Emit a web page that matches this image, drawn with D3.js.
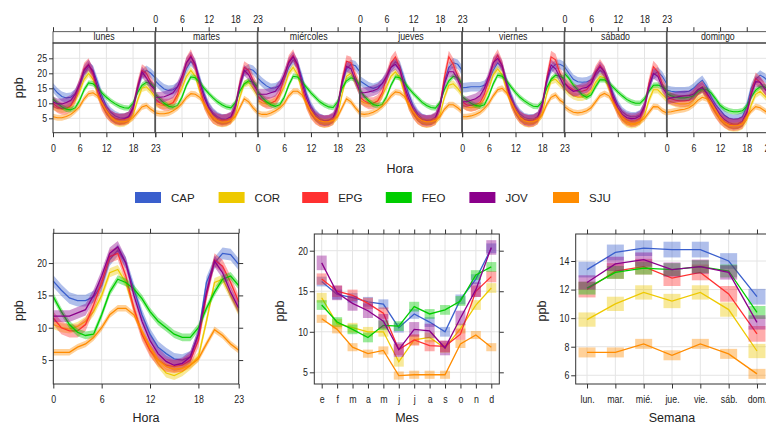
<!DOCTYPE html>
<html>
<head>
<meta charset="utf-8">
<script src="https://cdn.jsdelivr.net/npm/d3@7"></script>
<style>
  body { margin: 0; background: #fff; }
  text { font-family: "Liberation Sans Narrow", "Arial Narrow", "Liberation Sans", sans-serif; fill: #222; }
</style>
</head>
<body>
<svg id="chart" width="766" height="424"></svg>
<script>
// ---- data ----
const species = ['CAP', 'COR', 'EPG', 'FEO', 'JOV', 'SJU'];
const colours = ['#3a5fcd', '#eec900', '#ff3030', '#00cd00', '#8b008b', '#ff8c00'];
const dayNames = ['lunes', 'martes', 'miércoles', 'jueves', 'viernes', 'sábado', 'domingo'];
const hourTicks = [0, 6, 12, 18, 23];
const months = ['e', 'f', 'm', 'a', 'm', 'j', 'j', 'a', 's', 'o', 'n', 'd'];
const weekdays = ['lun.', 'mar.', 'mié.', 'jue.', 'vie.', 'sáb.', 'dom.'];

// day x hour means (lunes .. domingo), 24 values each
const dayHourCAP = [
  [15.2, 13.5, 12.3, 11.8, 12.0, 13.2, 15.8, 20.0, 22.2, 21.0, 17.0, 12.5, 9.0, 7.0, 5.8, 5.2, 5.1, 5.6, 8.5, 15.0, 19.5, 21.0, 20.0, 18.5],
  [17.5, 16.0, 14.8, 14.3, 14.5, 15.5, 17.5, 21.5, 24.0, 22.5, 18.0, 13.0, 9.0, 6.8, 5.5, 4.8, 4.7, 5.3, 8.5, 16.0, 20.5, 21.5, 21.0, 19.5],
  [18.5, 17.0, 15.8, 15.0, 15.2, 16.0, 18.0, 22.0, 24.5, 23.0, 18.5, 13.0, 9.0, 6.5, 5.0, 4.3, 4.3, 5.0, 8.5, 16.5, 21.5, 23.0, 22.5, 20.5],
  [17.5, 16.5, 15.5, 15.0, 15.5, 16.5, 18.5, 22.0, 23.8, 22.5, 18.0, 13.0, 9.0, 6.5, 5.0, 4.4, 4.4, 5.2, 9.0, 17.0, 22.0, 23.5, 23.0, 21.0],
  [15.2, 15.3, 15.5, 15.5, 15.5, 16.0, 17.5, 21.0, 23.5, 22.0, 17.5, 12.5, 8.8, 6.5, 5.2, 4.8, 4.8, 5.5, 9.0, 17.0, 21.5, 23.0, 23.0, 22.2],
  [22.2, 20.0, 18.0, 17.2, 17.0, 17.2, 17.8, 19.5, 21.0, 20.0, 17.0, 13.0, 9.5, 7.2, 6.0, 5.5, 5.5, 6.2, 9.0, 15.5, 19.5, 20.5, 19.0, 16.5],
  [14.4, 14.0, 13.8, 13.8, 13.8, 14.0, 15.0, 16.5, 17.7, 15.5, 12.0, 9.5, 7.8, 6.0, 5.0, 4.7, 4.8, 5.5, 9.0, 15.0, 18.0, 19.4, 18.5, 17.0]
];
const dayHourCOR = [
  [9.0, 8.3, 8.0, 8.2, 9.0, 11.0, 14.0, 18.0, 20.0, 18.0, 13.5, 9.5, 6.5, 4.8, 3.6, 3.2, 3.4, 4.2, 6.0, 11.0, 15.0, 15.5, 14.0, 12.0],
  [10.0, 9.5, 9.2, 9.5, 10.2, 12.0, 15.0, 19.0, 21.0, 19.0, 14.0, 9.5, 6.5, 4.5, 3.5, 3.2, 3.4, 4.2, 6.0, 12.0, 16.5, 17.0, 15.0, 12.5],
  [11.0, 10.2, 9.8, 10.0, 10.8, 12.5, 15.5, 20.0, 22.0, 19.5, 14.0, 9.5, 6.3, 4.5, 3.4, 3.0, 3.2, 4.0, 6.0, 13.0, 19.0, 20.0, 17.0, 13.5],
  [11.0, 10.2, 9.8, 10.0, 10.8, 12.5, 15.5, 19.0, 20.5, 18.5, 13.5, 9.0, 6.2, 4.3, 3.3, 3.0, 3.2, 4.0, 6.0, 12.0, 16.0, 16.5, 15.0, 13.0],
  [9.5, 8.8, 8.5, 8.8, 9.5, 11.5, 15.0, 19.5, 21.5, 19.5, 14.5, 9.8, 6.5, 4.5, 3.4, 3.1, 3.3, 4.2, 6.5, 13.0, 17.5, 18.0, 16.5, 15.0],
  [15.0, 13.5, 12.5, 12.0, 12.0, 12.5, 14.0, 17.0, 19.0, 18.5, 15.0, 10.5, 7.0, 4.5, 3.2, 2.8, 3.0, 3.8, 6.0, 11.0, 14.5, 14.5, 13.0, 11.5],
  [11.0, 10.5, 10.0, 9.8, 9.8, 10.0, 11.0, 13.0, 14.5, 12.5, 9.0, 6.5, 4.5, 3.0, 2.0, 1.7, 1.8, 2.5, 4.5, 9.5, 13.0, 14.0, 12.5, 11.0]
];
const dayHourEPG = [
  [10.0, 8.8, 8.2, 8.3, 9.2, 12.0, 16.5, 21.5, 23.0, 19.5, 14.0, 9.5, 7.0, 5.5, 4.8, 4.5, 4.6, 5.2, 8.0, 15.5, 21.0, 20.0, 17.0, 14.0],
  [11.5, 10.2, 9.5, 9.5, 10.2, 13.0, 18.0, 23.5, 26.0, 22.0, 15.5, 10.0, 7.0, 5.2, 4.5, 4.2, 4.4, 5.0, 8.5, 16.5, 22.0, 21.0, 17.5, 14.5],
  [12.5, 11.0, 10.2, 10.0, 10.8, 13.5, 18.5, 24.0, 26.0, 22.0, 15.5, 10.0, 6.8, 5.0, 4.2, 3.9, 4.1, 4.8, 8.5, 17.5, 24.0, 23.5, 19.0, 15.0],
  [12.0, 10.8, 10.0, 10.0, 10.8, 13.5, 18.5, 23.5, 25.5, 21.5, 15.0, 9.8, 6.8, 5.0, 4.2, 3.9, 4.1, 4.8, 9.0, 18.5, 25.5, 23.0, 19.0, 15.5],
  [10.5, 9.5, 9.2, 9.5, 10.2, 13.0, 18.0, 23.5, 26.0, 22.5, 16.0, 10.5, 7.2, 5.3, 4.4, 4.0, 4.2, 5.0, 9.0, 18.0, 25.5, 24.5, 20.0, 17.0],
  [17.0, 15.5, 14.5, 14.0, 14.0, 14.5, 16.5, 20.5, 22.8, 20.5, 16.0, 11.0, 7.5, 5.5, 4.5, 4.0, 4.2, 5.0, 8.5, 16.5, 22.2, 20.5, 16.5, 13.5],
  [12.5, 11.5, 11.0, 10.8, 10.8, 11.0, 12.5, 14.5, 15.5, 13.0, 9.5, 7.0, 5.0, 3.8, 3.0, 2.8, 2.9, 3.5, 6.5, 13.5, 18.3, 17.0, 15.0, 13.0]
];
const dayHourFEO = [
  [11.5, 10.0, 8.8, 8.0, 7.8, 8.5, 11.0, 14.5, 16.8, 16.5, 15.2, 13.5, 12.0, 10.8, 9.8, 9.0, 8.5, 8.4, 10.0, 13.5, 16.0, 17.0, 16.5, 15.0],
  [13.0, 11.5, 10.0, 9.0, 8.7, 9.3, 12.0, 16.0, 18.8, 18.5, 17.0, 15.0, 13.3, 11.8, 10.5, 9.5, 8.8, 8.5, 10.2, 14.0, 16.5, 17.5, 17.0, 15.5],
  [14.0, 12.0, 10.5, 9.5, 9.0, 9.5, 12.0, 16.0, 19.0, 18.8, 17.2, 15.3, 13.5, 12.0, 10.5, 9.5, 8.8, 8.6, 10.5, 15.0, 17.5, 18.5, 18.0, 16.0],
  [14.5, 12.3, 10.8, 9.6, 9.2, 9.6, 12.2, 16.0, 18.8, 18.5, 17.0, 15.0, 13.3, 11.8, 10.3, 9.3, 8.6, 8.4, 10.2, 14.5, 17.5, 19.0, 18.5, 16.5],
  [12.2, 11.0, 10.0, 9.3, 9.0, 9.5, 12.5, 16.5, 19.4, 19.0, 17.5, 15.5, 13.6, 12.0, 10.8, 9.8, 9.0, 8.9, 10.5, 15.0, 18.0, 19.4, 19.0, 18.3],
  [20.0, 18.3, 16.1, 14.5, 12.8, 12.0, 12.8, 15.5, 17.8, 17.8, 16.8, 15.3, 13.8, 12.5, 11.3, 10.5, 10.0, 10.0, 11.5, 14.0, 16.0, 16.1, 15.5, 14.5],
  [13.3, 12.5, 12.0, 11.8, 11.8, 12.0, 12.5, 14.0, 14.8, 14.5, 13.5, 11.5, 9.4, 8.2, 7.5, 7.2, 7.2, 7.5, 9.0, 12.0, 14.4, 15.5, 15.5, 14.5]
];
const dayHourJOV = [
  [10.5, 9.8, 9.8, 10.3, 11.0, 13.0, 16.5, 21.0, 22.8, 20.5, 15.5, 11.0, 8.0, 6.0, 5.0, 4.6, 4.8, 5.5, 8.5, 15.0, 20.5, 18.5, 16.0, 14.5],
  [12.0, 12.0, 12.2, 12.8, 13.5, 15.5, 19.0, 23.5, 25.5, 23.0, 17.0, 12.0, 8.5, 6.2, 5.0, 4.5, 4.7, 5.5, 9.0, 16.0, 21.0, 19.5, 16.5, 14.0],
  [13.0, 13.0, 13.0, 13.5, 14.0, 16.0, 19.5, 23.5, 25.5, 23.0, 17.0, 11.8, 8.0, 5.8, 4.6, 4.2, 4.4, 5.3, 9.0, 17.0, 22.3, 21.5, 17.5, 14.0],
  [13.5, 13.5, 13.8, 14.2, 14.8, 16.5, 19.0, 22.0, 23.0, 21.0, 16.0, 11.5, 8.0, 5.8, 4.6, 4.3, 4.5, 5.3, 9.0, 16.5, 20.5, 20.5, 18.0, 14.5],
  [10.5, 10.5, 11.0, 11.5, 12.5, 15.0, 19.0, 23.5, 25.0, 22.5, 16.5, 11.5, 8.0, 5.8, 4.6, 4.3, 4.5, 5.5, 9.5, 17.5, 22.8, 21.5, 18.5, 15.5],
  [16.7, 15.0, 14.0, 14.3, 15.0, 15.3, 16.5, 20.0, 22.2, 20.5, 16.7, 12.0, 8.5, 6.3, 5.2, 4.9, 5.0, 5.8, 9.0, 15.5, 20.0, 19.0, 15.5, 13.0],
  [11.3, 11.8, 12.0, 12.3, 12.5, 12.5, 13.0, 14.5, 15.3, 13.5, 11.0, 8.5, 6.1, 4.5, 3.5, 3.1, 3.2, 4.0, 7.0, 13.0, 17.2, 17.0, 15.0, 13.0]
];
const dayHourSJU = [
  [5.5, 5.2, 5.2, 5.6, 6.3, 7.5, 9.0, 11.5, 13.2, 13.5, 12.5, 10.0, 7.5, 5.5, 4.3, 3.8, 3.8, 4.2, 5.2, 7.0, 8.8, 9.3, 8.0, 7.0],
  [6.8, 6.5, 6.5, 6.8, 7.5, 8.5, 10.0, 12.0, 13.2, 13.0, 12.0, 9.8, 7.3, 5.3, 4.2, 3.7, 3.8, 4.3, 5.5, 8.5, 11.5, 10.5, 8.5, 7.0],
  [6.8, 6.3, 6.3, 6.8, 7.5, 8.5, 10.0, 12.5, 14.0, 14.0, 12.8, 10.0, 7.3, 5.2, 4.2, 3.8, 3.9, 4.3, 5.5, 8.5, 11.5, 10.5, 8.5, 6.8],
  [6.5, 6.3, 6.5, 7.0, 7.8, 9.0, 10.5, 12.5, 13.8, 13.5, 12.3, 9.8, 7.2, 5.2, 4.2, 3.8, 3.9, 4.3, 5.5, 8.0, 9.5, 9.5, 8.5, 7.2],
  [5.5, 5.5, 5.8, 6.3, 7.0, 8.3, 10.0, 12.5, 14.5, 15.0, 13.5, 10.5, 7.5, 5.3, 4.2, 3.8, 3.9, 4.5, 6.0, 9.5, 12.0, 12.8, 11.0, 10.0],
  [8.9, 7.8, 7.0, 6.8, 7.0, 7.5, 8.5, 10.5, 12.5, 13.3, 12.5, 10.0, 7.5, 5.3, 3.9, 3.3, 3.4, 3.9, 5.0, 7.0, 8.9, 8.8, 7.5, 6.8],
  [7.0, 7.2, 7.5, 7.8, 8.0, 8.5, 9.5, 11.0, 12.0, 11.5, 10.0, 7.5, 5.0, 3.5, 2.7, 2.5, 2.6, 3.2, 5.5, 7.5, 8.9, 8.5, 7.5, 6.5]
];

// hourly means (all days)
const hourCAP = [17.2, 15.8, 14.6, 14.2, 14.2, 14.8, 16.5, 20.5, 22.0, 20.0, 16.0, 12.0, 9.0, 7.0, 6.0, 5.2, 5.0, 5.5, 9.0, 17.0, 20.0, 21.5, 21.3, 19.8];
const hourCOR = [10.5, 10.0, 9.8, 10.2, 11.0, 12.5, 15.0, 18.5, 19.0, 17.0, 13.0, 9.0, 6.5, 4.5, 3.0, 2.6, 3.2, 4.2, 5.5, 11.0, 17.0, 17.5, 15.0, 12.5];
const hourEPG = [11.5, 10.0, 9.5, 9.5, 10.5, 13.5, 17.0, 21.0, 21.5, 18.0, 13.0, 9.0, 6.5, 5.0, 4.2, 4.0, 4.2, 5.0, 8.0, 15.0, 20.5, 19.5, 17.0, 14.0];
const hourFEO = [14.8, 12.5, 10.5, 9.3, 8.8, 9.0, 12.0, 15.5, 17.5, 17.0, 16.0, 14.5, 12.5, 11.0, 10.0, 9.0, 8.5, 8.5, 10.0, 13.0, 15.5, 17.5, 18.0, 16.5];
const hourJOV = [11.8, 11.8, 11.8, 12.3, 12.8, 15.0, 18.0, 21.5, 22.5, 20.0, 15.0, 11.0, 8.0, 6.0, 4.8, 4.2, 4.5, 5.5, 9.0, 15.5, 20.3, 18.5, 15.5, 13.0];
const hourSJU = [6.2, 6.2, 6.2, 7.0, 7.5, 8.5, 10.0, 12.0, 13.0, 13.0, 12.0, 9.5, 7.0, 5.0, 4.0, 3.6, 3.7, 4.2, 5.2, 7.5, 9.7, 8.8, 7.5, 6.5];

// monthly means
const monthCAP = [16.2, 14.6, 14.2, 13.7, 13.4, 10.5, 12.2, 11.2, 10.0, 14.0, 16.5, 20.3];
const monthCOR = [14.2, 11.0, 10.5, 10.0, 10.0, 6.3, 9.0, 9.3, 8.0, 10.4, 13.3, 15.4];
const monthEPG = [16.5, 15.0, 14.5, 13.5, 12.3, 7.8, 9.0, 8.3, 8.2, 9.7, 15.0, 16.8];
const monthFEO = [13.3, 11.2, 10.3, 9.3, 10.8, 10.7, 13.1, 12.2, 12.7, 13.8, 17.0, 18.0];
const monthJOV = [18.5, 14.8, 13.5, 12.6, 11.3, 7.8, 10.3, 10.1, 8.0, 11.7, 15.2, 20.4];
const monthSJU = [11.6, 10.3, 8.1, 7.3, 7.7, 4.6, 4.7, 4.7, 4.7, 8.5, 9.6, 8.1];

// weekday means
const weekCAP = [13.4, 14.6, 14.9, 14.8, 14.8, 14.0, 11.5];
const weekCOR = [9.9, 11.0, 11.8, 11.2, 11.8, 10.6, 7.7];
const weekEPG = [12.0, 13.3, 13.6, 12.8, 13.2, 11.7, 8.9];
const weekFEO = [12.1, 13.2, 13.5, 13.4, 13.6, 13.3, 10.4];
const weekJOV = [12.5, 13.8, 14.1, 13.4, 13.6, 13.2, 9.7];
const weekSJU = [7.6, 7.6, 8.2, 7.4, 8.2, 7.5, 6.1];

// confidence half-widths per species
const ciDayHour = [1.6, 1.2, 2.0, 0.9, 1.8, 1.0];
const ciHour = [0.9, 0.7, 1.0, 0.6, 0.9, 0.5];
const ciMonth = [0.6, 0.6, 0.7, 0.6, 0.9, 0.5];
const ciWeek = [0.55, 0.5, 0.55, 0.45, 0.5, 0.35];

const dayHour = [dayHourCAP, dayHourCOR, dayHourEPG, dayHourFEO, dayHourJOV, dayHourSJU];
const hourly = [hourCAP, hourCOR, hourEPG, hourFEO, hourJOV, hourSJU];
const monthly = [monthCAP, monthCOR, monthEPG, monthFEO, monthJOV, monthSJU];
const weekly = [weekCAP, weekCOR, weekEPG, weekFEO, weekJOV, weekSJU];

// ---- drawing ----
const svg = d3.select('#chart');
const gridCol = '#e4e4e4';
const frameCol = '#333';
const tickFont = 10.5;
const narrow = 0.84; // squeeze tick labels to look like a narrow face

function styleAxis(g, labelled) {
  g.select('.domain').remove();
  g.selectAll('line').attr('stroke', frameCol);
  g.selectAll('text')
    .attr('font-family', null)
    .style('font-size', tickFont + 'px')
    .attr('fill', '#333')
    .attr('transform', `scale(${narrow},1)`);
  if (!labelled) g.selectAll('text').remove();
  g.attr('font-family', null).attr('font-size', null);
}

function seriesBand(g, x, y, vals, ci, col, width) {
  g.append('path').datum(vals)
    .attr('d', d3.area().x((d, i) => x(i)).y0(d => y(d - ci)).y1(d => y(d + ci)))
    .attr('fill', col).attr('fill-opacity', 0.4);
  g.append('path').datum(vals)
    .attr('d', d3.line().x((d, i) => x(i)).y(d => y(d)))
    .attr('fill', 'none').attr('stroke', col).attr('stroke-width', width);
}

// top panel: day x hour
const tp = { left: 53, right: 769, top: 43, bottom: 132.7, strip: 31.7 };
const dayW = (tp.right - tp.left) / 7;
const yTop = d3.scaleLinear().domain([0.2, 30.1]).range([tp.bottom, tp.top]);

dayNames.forEach((day, di) => {
  const x0 = tp.left + di * dayW;
  const x = d3.scaleLinear().domain([0, 23]).range([x0, x0 + dayW]);
  const g = svg.append('g');

  g.selectAll('.hg').data([5, 10, 15, 20, 25]).join('line')
    .attr('x1', x0).attr('x2', x0 + dayW)
    .attr('y1', d => yTop(d)).attr('y2', d => yTop(d))
    .attr('stroke', gridCol);
  g.selectAll('.vg').data([6, 12, 18]).join('line')
    .attr('x1', d => x(d)).attr('x2', d => x(d))
    .attr('y1', tp.top).attr('y2', tp.bottom)
    .attr('stroke', gridCol);

  species.forEach((s, si) => {
    seriesBand(g, x, yTop, dayHour[si][di], ciDayHour[si], colours[si], 1.1);
  });

  // strip
  g.append('rect').attr('x', x0).attr('y', tp.strip).attr('width', dayW).attr('height', tp.top - tp.strip)
    .attr('fill', '#fff').attr('stroke', frameCol).attr('stroke-width', 0.8);
  g.append('text').attr('x', (x0 + dayW / 2) / narrow).attr('y', tp.strip + 8.5)
    .attr('transform', `scale(${narrow},1)`)
    .attr('text-anchor', 'middle').style('font-size', '10.5px').attr('fill', '#333').text(day);

  // panel border
  g.append('rect').attr('x', x0).attr('y', tp.top).attr('width', dayW).attr('height', tp.bottom - tp.top)
    .attr('fill', 'none').attr('stroke', frameCol).attr('stroke-width', 1);

  const topLabels = di % 2 === 1;
  svg.append('g').attr('transform', `translate(0,${tp.strip})`)
    .call(d3.axisTop(x).tickValues(hourTicks).tickSize(4.5).tickPadding(4))
    .call(a => styleAxis(a, topLabels));
  svg.append('g').attr('transform', `translate(0,${tp.bottom})`)
    .call(d3.axisBottom(x).tickValues(hourTicks).tickSize(4.5).tickPadding(7))
    .call(a => styleAxis(a, !topLabels));
});

// day separators drawn heavier
svg.selectAll('.sep').data(d3.range(1, 7)).join('line')
  .attr('x1', d => tp.left + d * dayW).attr('x2', d => tp.left + d * dayW)
  .attr('y1', tp.strip).attr('y2', tp.bottom)
  .attr('stroke', '#555').attr('stroke-width', 1.6);

svg.append('g').attr('transform', `translate(${tp.left},0)`)
  .call(d3.axisLeft(yTop).tickValues([5, 10, 15, 20, 25]).tickSize(4).tickPadding(3))
  .call(a => styleAxis(a, true));

svg.append('text').attr('transform', `translate(23,${(tp.top + tp.bottom) / 2}) rotate(-90)`)
  .attr('text-anchor', 'middle').style('font-size', '12.5px').text('ppb');
svg.append('text').attr('x', 400).attr('y', 173)
  .attr('text-anchor', 'middle').style('font-size', '12.5px').text('Hora');

// legend
species.forEach((s, i) => {
  const lx = 135 + i * 83.6;
  svg.append('rect').attr('x', lx).attr('y', 192).attr('width', 26).attr('height', 11).attr('fill', colours[i]);
  svg.append('text').attr('x', lx + 36).attr('y', 202).style('font-size', '11.5px').attr('fill', '#333').text(s);
});

// bottom panels
function framePanel(p, x, y, xTicks, xFormat, yTicks, vGrid, xTitle, titleX) {
  const g = svg.append('g');
  g.selectAll('.hg').data(yTicks).join('line')
    .attr('x1', p.left).attr('x2', p.right)
    .attr('y1', d => y(d)).attr('y2', d => y(d)).attr('stroke', gridCol);
  g.selectAll('.vg').data(vGrid).join('line')
    .attr('x1', d => x(d)).attr('x2', d => x(d))
    .attr('y1', p.top).attr('y2', p.bottom).attr('stroke', gridCol);
  svg.append('g').attr('transform', `translate(0,${p.bottom})`)
    .call(d3.axisBottom(x).tickValues(xTicks).tickFormat(xFormat).tickSize(4.5).tickPadding(7))
    .call(a => styleAxis(a, true));
  svg.append('g').attr('transform', `translate(0,${p.top})`)
    .call(d3.axisTop(x).tickValues(xTicks).tickSize(4.5))
    .call(a => styleAxis(a, false));
  svg.append('g').attr('transform', `translate(${p.left},0)`)
    .call(d3.axisLeft(y).tickValues(yTicks).tickSize(4.5).tickPadding(3))
    .call(a => styleAxis(a, true));
  svg.append('g').attr('transform', `translate(${p.right},0)`)
    .call(d3.axisRight(y).tickValues(yTicks).tickSize(4.5))
    .call(a => styleAxis(a, false));
  svg.append('text').attr('transform', `translate(${p.left - 30},${(p.top + p.bottom) / 2 + 2}) rotate(-90)`)
    .attr('text-anchor', 'middle').style('font-size', '12.5px').text('ppb');
  svg.append('text').attr('x', titleX).attr('y', 422)
    .attr('text-anchor', 'middle').style('font-size', '12.5px').text(xTitle);
  return g;
}

function border(p) {
  svg.append('rect').attr('x', p.left).attr('y', p.top)
    .attr('width', p.right - p.left).attr('height', p.bottom - p.top)
    .attr('fill', 'none').attr('stroke', frameCol).attr('stroke-width', 1);
}

// hour panel
const hp = { left: 53.3, right: 238.7, top: 233.3, bottom: 384 };
const xHour = d3.scaleLinear().domain([0, 23]).range([hp.left, hp.right]);
const yHour = d3.scaleLinear().domain([1.3, 24.6]).range([hp.bottom, hp.top]);
const gHour = framePanel(hp, xHour, yHour, hourTicks, d3.format('d'), [5, 10, 15, 20], [0, 6, 12, 18, 23], 'Hora', 146);
species.forEach((s, si) => seriesBand(gHour, xHour, yHour, hourly[si], ciHour[si], colours[si], 1.3));
border(hp);

// month and weekday panels: boxes for the intervals
function boxSeries(g, x, y, vals, ci, col, w) {
  g.selectAll(null).data(vals).join('rect')
    .attr('x', (d, i) => x(i + 1) - w / 2).attr('width', w)
    .attr('y', d => y(d + ci)).attr('height', d => y(d - ci) - y(d + ci))
    .attr('fill', col).attr('fill-opacity', 0.4);
  g.append('path').datum(vals)
    .attr('d', d3.line().x((d, i) => x(i + 1)).y(d => y(d)))
    .attr('fill', 'none').attr('stroke', col).attr('stroke-width', 1.3);
}

const mp = { left: 314.3, right: 499.3, top: 234, bottom: 384 };
const xMonth = d3.scaleLinear().domain([0.52, 12.52]).range([mp.left, mp.right]);
const yMonth = d3.scaleLinear().domain([3.56, 22.06]).range([mp.bottom, mp.top]);
const monthIdx = d3.range(1, 13);
const gMonth = framePanel(mp, xMonth, yMonth, monthIdx, i => months[i - 1], [5, 10, 15, 20], monthIdx, 'Mes', 407);
species.forEach((s, si) => boxSeries(gMonth, xMonth, yMonth, monthly[si], ciMonth[si], colours[si], 10));
border(mp);

const wp = { left: 575.7, right: 768.3, top: 234, bottom: 384 };
const xWeek = d3.scaleLinear().domain([0.6, 7.4]).range([wp.left, wp.right]);
const yWeek = d3.scaleLinear().domain([5.39, 15.89]).range([wp.bottom, wp.top]);
const weekIdx = d3.range(1, 8);
const gWeek = framePanel(wp, xWeek, yWeek, weekIdx, i => weekdays[i - 1], [6, 8, 10, 12, 14], weekIdx, 'Semana', 672);
species.forEach((s, si) => boxSeries(gWeek, xWeek, yWeek, weekly[si], ciWeek[si], colours[si], 17));
border(wp);
</script>
</body>
</html>
